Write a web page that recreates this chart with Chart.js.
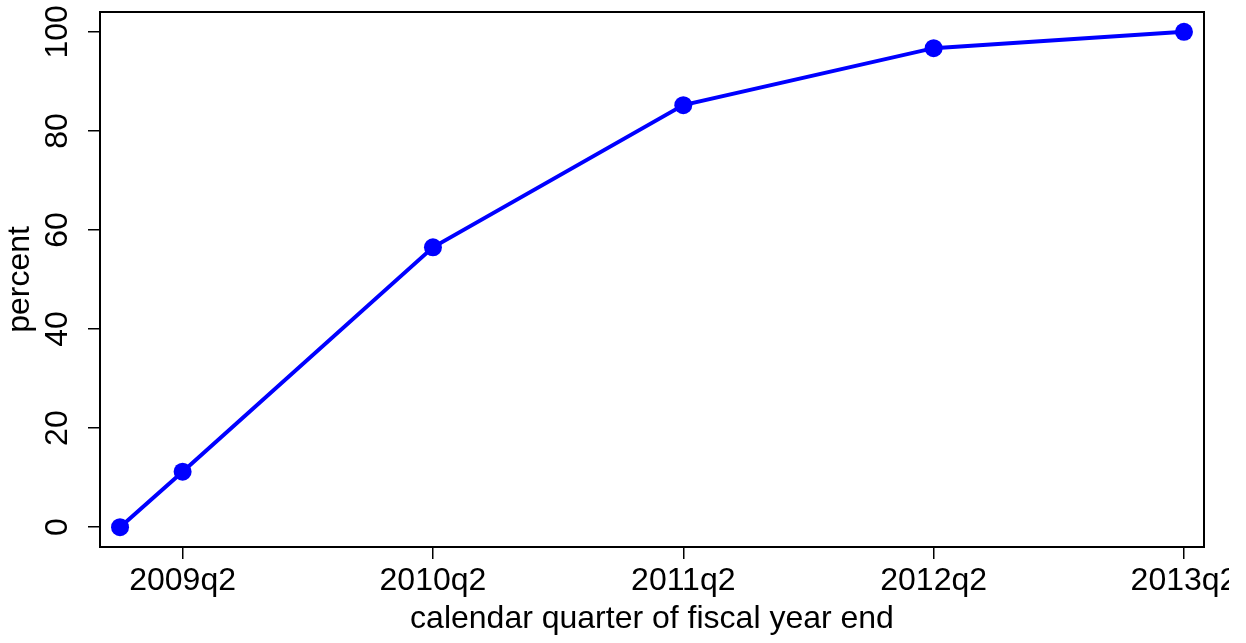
<!DOCTYPE html>
<html lang="en">
<head>
    <meta charset="UTF-8">
    <title>Percent by calendar quarter of fiscal year end</title>
    <script src="https://cdn.jsdelivr.net/npm/chart.js"></script>
    <style>
        body { margin: 0; background: white; }
        /* the original graph cuts the last tick label short, so the canvas stops a bit early */
        #wrap { width: 1229px; height: 643px; position: relative; }
    </style>
</head>
<body>
    <div id="wrap"><canvas id="quarterChart"></canvas></div>

    <script>
        // data
        const quarters = ['2009q1', '2009q2', '2010q2', '2011q2', '2012q2', '2013q2'];
        const percent = [0, 11.2, 56.5, 85.2, 96.7, 100];
        const xTickLabels = ['2009q2', '2010q2', '2011q2', '2012q2', '2013q2'];
        const yTickValues = [0, 20, 40, 60, 80, 100];

        // quarter string -> running quarter number (2009q1 = 0)
        function qIndex(s) {
            const year = parseInt(s.slice(0, 4));
            const q = parseInt(s.slice(5));
            return (year - 2009) * 4 + (q - 1);
        }

        const points = quarters.map((q, i) => ({ x: qIndex(q), y: percent[i] }));

        Chart.defaults.font.family = "'Liberation Sans', Arial, sans-serif";
        Chart.defaults.font.size = 32;
        Chart.defaults.color = '#000';

        // plot frame on all four sides
        const framePlugin = {
            id: 'frame',
            afterDraw(chart) {
                const a = chart.chartArea;
                const ctx = chart.ctx;
                ctx.save();
                ctx.strokeStyle = '#000';
                ctx.lineWidth = 2;
                ctx.strokeRect(a.left, a.top, a.right - a.left, a.bottom - a.top);
                ctx.restore();
            }
        };

        new Chart(document.getElementById('quarterChart'), {
            type: 'line',
            data: {
                datasets: [{
                    data: points,
                    borderColor: '#0000ff',
                    backgroundColor: '#0000ff',
                    borderWidth: 4,
                    pointRadius: 9,
                    pointBorderWidth: 0,
                    pointBackgroundColor: '#0000ff',
                    tension: 0
                }]
            },
            options: {
                responsive: true,
                maintainAspectRatio: false,
                animation: false,
                layout: { padding: { top: 12, right: 25, bottom: 0, left: 0 } },
                plugins: {
                    legend: { display: false },
                    tooltip: { enabled: false }
                },
                scales: {
                    x: {
                        type: 'linear',
                        min: -0.32,
                        max: 17.32,
                        afterBuildTicks: scale => {
                            scale.ticks = xTickLabels.map(l => ({ value: qIndex(l) }));
                        },
                        afterFit: scale => {
                            scale.height = 96;
                            scale.paddingLeft = 0;
                            scale.paddingRight = 0;
                        },
                        grid: {
                            drawOnChartArea: false,
                            drawTicks: true,
                            tickLength: 12,
                            color: '#000',
                            lineWidth: 1.5
                        },
                        border: { display: false },
                        ticks: {
                            padding: 3,
                            maxRotation: 0,
                            autoSkip: false,
                            callback: v => {
                                const i = xTickLabels.findIndex(l => qIndex(l) === v);
                                return i >= 0 ? xTickLabels[i] : '';
                            }
                        },
                        title: {
                            display: true,
                            text: 'calendar quarter of fiscal year end',
                            padding: { top: 0, bottom: 5 }
                        }
                    },
                    y: {
                        min: -4,
                        max: 104,
                        afterBuildTicks: scale => {
                            scale.ticks = yTickValues.map(v => ({ value: v }));
                        },
                        afterFit: scale => {
                            scale.width = 100;
                            scale.paddingTop = 0;
                            scale.paddingBottom = 0;
                        },
                        grid: {
                            drawOnChartArea: false,
                            drawTicks: true,
                            tickLength: 12,
                            color: '#000',
                            lineWidth: 1.5
                        },
                        border: { display: false },
                        ticks: {
                            padding: 3,
                            minRotation: 90,
                            maxRotation: 90,
                            crossAlign: 'center'
                        },
                        title: {
                            display: true,
                            text: 'percent',
                            padding: { top: 1, bottom: 0 }
                        }
                    }
                }
            },
            plugins: [framePlugin]
        });
    </script>
</body>
</html>
